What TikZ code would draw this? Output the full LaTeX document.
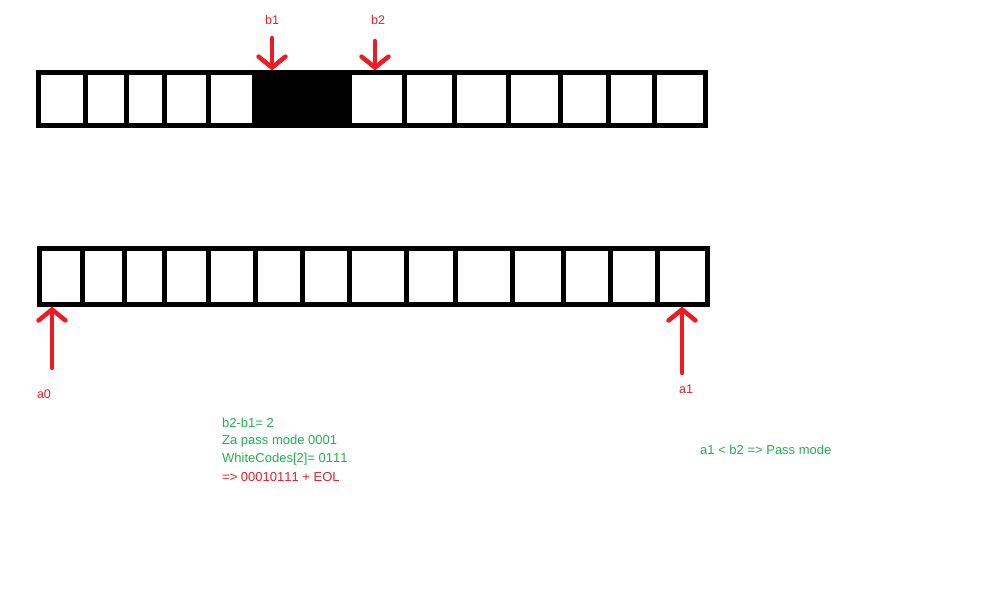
\documentclass[tikz,border=0pt]{standalone}
\usepackage{fontspec}
\setmainfont{Liberation Sans}[Kerning=Off]
\usepackage{xcolor}
\usetikzlibrary{arrows.meta,positioning}
\definecolor{paintred}{RGB}{237,28,36}
\definecolor{paintgreen}{RGB}{34,177,76}

\begin{document}
\begin{tikzpicture}[x=1pt,y=-1pt,
    cell/.style={draw, line width=5pt, inner sep=0pt, outer sep=0pt},
    ptr/.style={draw=paintred, line width=4.5pt, line cap=round, shorten >=2pt,
        -{Straight Barb[length=11pt,width=27pt,line cap=round]}},
    lbl/.style={text=paintred, font=\fontsize{12.5}{15}\selectfont, inner sep=0pt},
    note/.style={text=paintgreen, font=\fontsize{13}{15}\selectfont, anchor=west, inner sep=0pt}]
    \useasboundingbox (0,0) rectangle (991,596);

    % upper row (b)
    \foreach \l/\r/\f [count=\i] in {38.5/85.5/white, 85.5/126.5/white, 126.5/164.5/white,
        164.5/208.5/white, 208.5/254.5/white, 254.5/302/black, 302/349.5/black,
        349.5/404.5/white, 404.5/454.5/white, 454.5/508.5/white, 508.5/560.5/white,
        560.5/608/white, 608/654.5/white, 654.5/705.5/white} {
        \pgfmathsetmacro\w{\r-\l}
        \node[cell, fill=\f, minimum width=\w pt, minimum height=53pt] (t\i) at ({(\l+\r)/2},99) {};
    }

    % lower row (a)
    \foreach \l/\r [count=\i] in {39.5/82, 82/124, 124/164, 164/208, 208/255, 255/302,
        302/349, 349/406, 406/455.5, 455.5/512, 512/563.5, 563.5/610, 610/657, 657/707.5} {
        \pgfmathsetmacro\w{\r-\l}
        \node[cell, fill=white, minimum width=\w pt, minimum height=56pt] (u\i) at ({(\l+\r)/2},276.6) {};
    }

    \node[lbl] (b1) at (272,20) {b1};
    \node[lbl] (b2) at (378,20) {b2};
    \node[lbl] (a0) at (44,394) {a0};
    \node[lbl] (a1) at (686,389) {a1};

    \coordinate (b1tail) at (272,38);
    \coordinate (b2tail) at (375,41);
    \coordinate (a0tail) at (52,368);
    \coordinate (a1tail) at (682,373);
    \draw[ptr] (b1tail) -- (b1tail |- t6.north);
    \draw[ptr] (b2tail) -- (b2tail |- t8.north);
    \draw[ptr] (a0tail) -- (a0tail |- u1.south);
    \draw[ptr] (a1tail) -- (a1tail |- u14.south);

    \node[note] (diff) at (222,423) {b2-b1= 2};
    \node[note] (pass) at (222,441) {Za pass mode 0001};
    \node[note] (white) at (222,459) {WhiteCodes[2]= 0111};
    \node[note, text=paintred] (result) at (222,477) {=> 00010111 + EOL};
    \node[note] (cond) at (700,450) {a1 < b2 => Pass mode};
\end{tikzpicture}
\end{document}
